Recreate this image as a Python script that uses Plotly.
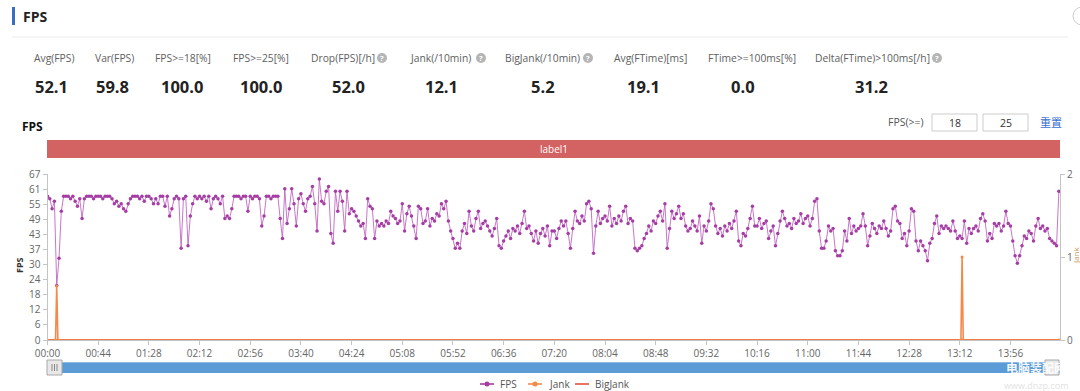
import plotly.graph_objects as go

W, H = 1080, 391


def px(x):
    return x / W


def py(y):
    return 1 - y / H


# ---------------- data ----------------
sample_interval_s = 2
fps_values = [
    58, 57, 53, 56, 22, 33, 52, 58, 58, 58, 57, 58, 56, 54, 57, 49, 57, 58, 58, 58, 57, 58,  # 00:00
    58, 58, 57, 58, 58, 58, 57, 55, 56, 54, 55, 53, 52, 55, 57, 58, 58, 58, 57, 58, 56, 58,  # 00:44
    58, 57, 55, 57, 55, 58, 58, 54, 58, 50, 53, 57, 58, 57, 37, 57, 58, 38, 50, 55, 58, 57,  # 01:28
    58, 57, 58, 56, 58, 53, 57, 58, 57, 55, 58, 49, 50, 49, 53, 58, 58, 58, 57, 58, 58, 52,  # 02:12
    58, 57, 58, 58, 57, 46, 50, 58, 58, 57, 58, 58, 58, 49, 41, 61, 47, 53, 61, 55, 46, 57,  # 02:56
    59, 55, 52, 57, 58, 62, 55, 44, 65, 56, 55, 60, 62, 43, 39, 60, 52, 60, 56, 44, 60, 51,  # 03:40
    53, 52, 50, 48, 46, 47, 41, 57, 54, 53, 41, 48, 46, 47, 46, 48, 47, 52, 50, 49, 47, 48,  # 04:24
    55, 44, 51, 54, 50, 46, 41, 54, 53, 47, 48, 53, 46, 49, 48, 51, 50, 55, 53, 56, 48, 44,  # 05:08
    41, 37, 39, 37, 44, 47, 43, 52, 46, 44, 49, 52, 45, 47, 48, 46, 44, 42, 45, 49, 38, 37,  # 05:52
    40, 42, 44, 41, 45, 44, 46, 43, 47, 52, 45, 46, 43, 40, 44, 39, 43, 45, 42, 46, 38, 44,  # 06:36
    44, 41, 45, 48, 46, 48, 43, 37, 45, 52, 48, 47, 50, 48, 55, 56, 53, 35, 46, 52, 47, 49,  # 07:20
    50, 48, 54, 46, 49, 47, 50, 48, 52, 54, 47, 49, 48, 37, 36, 37, 38, 41, 43, 46, 44, 48,  # 08:04
    47, 50, 52, 48, 55, 37, 45, 52, 49, 51, 54, 49, 51, 46, 44, 45, 48, 46, 44, 50, 39, 46,  # 08:48
    44, 48, 55, 53, 46, 43, 45, 42, 46, 44, 47, 45, 48, 52, 40, 38, 43, 42, 45, 49, 54, 46,  # 09:32
    46, 49, 45, 47, 48, 41, 44, 46, 38, 43, 48, 52, 49, 46, 47, 45, 49, 47, 48, 51, 47, 49,  # 10:16
    50, 46, 49, 56, 57, 44, 37, 37, 40, 46, 44, 45, 36, 34, 34, 36, 44, 40, 49, 43, 46, 44,  # 11:00
    45, 46, 51, 46, 38, 42, 47, 45, 43, 46, 45, 48, 45, 42, 44, 53, 54, 48, 47, 41, 43, 38,  # 11:44
    44, 53, 52, 40, 36, 40, 38, 36, 32, 39, 41, 47, 50, 43, 46, 45, 46, 45, 44, 48, 44, 41,  # 12:28
    42, 41, 48, 39, 45, 43, 45, 46, 44, 49, 51, 48, 40, 43, 41, 47, 46, 47, 44, 46, 52, 47,  # 13:12
    46, 40, 34, 31, 34, 38, 42, 41, 44, 43, 40, 46, 49, 45, 46, 44, 45, 41, 40, 39, 38, 60,  # 13:56
]
time_s = [i * sample_interval_s for i in range(len(fps_values))]

jank_time_s = [0, 7, 8, 9, 793, 794, 795, 878]
jank_values = [0, 0, 0.65, 0, 0, 1, 0, 0]

bigjank_time_s = [0, 878]
bigjank_values = [0, 0]

x_tick_labels = ["00:00", "00:44", "01:28", "02:12", "02:56", "03:40", "04:24",
                 "05:08", "05:52", "06:36", "07:20", "08:04", "08:48", "09:32",
                 "10:16", "11:00", "11:44", "12:28", "13:12", "13:56"]
y_left_max = 67
y_left_tick_labels = ["0", "6", "12", "18", "24", "30", "37", "43", "49", "55", "61", "67"]
y_right_tick_labels = ["0", "1", "2"]

stat_labels = ["Avg(FPS)", "Var(FPS)", "FPS>=18[%]", "FPS>=25[%]", "Drop(FPS)[/h]",
               "Jank(/10min)", "BigJank(/10min)", "Avg(FTime)[ms]", "FTime>=100ms[%]",
               "Delta(FTime)>100ms[/h]"]
stat_values = ["52.1", "59.8", "100.0", "100.0", "52.0", "12.1", "5.2", "19.1", "0.0", "31.2"]
stat_has_help = [False, False, False, False, True, True, True, False, False, True]

threshold_values = ["18", "25"]

# ---------------- styling / layout positions ----------------
stat_label_x = [32, 93, 153, 231, 309, 408, 503, 612, 706, 813]
stat_help_x = [None, None, None, None, 382, 481, 588, None, None, 937]
stat_value_x = [51, 112, 182, 261, 348, 441, 543, 643, 743, 871]

FONT = "Open Sans, Noto Sans CJK SC, sans-serif"
PURPLE = "#a53da5"
PURPLE_LINE = "rgba(190,95,190,0.85)"
ORANGE = "#f5894a"
RED = "#e5503c"

x_tickvals = [int(s.split(":")[0]) * 60 + int(s.split(":")[1]) for s in x_tick_labels]
n_left = len(y_left_tick_labels) - 1
y_left_tickvals = [i * y_left_max / n_left for i in range(n_left + 1)]
y_right_tickvals = [float(v) for v in y_right_tick_labels]

fig = go.Figure()
fig.add_trace(go.Scatter(
    x=time_s, y=fps_values, name="FPS", mode="lines+markers",
    line=dict(color=PURPLE_LINE, width=1),
    marker=dict(color=PURPLE, size=3.5), yaxis="y"))
fig.add_trace(go.Scatter(
    x=bigjank_time_s, y=bigjank_values, name="BigJank", mode="lines",
    line=dict(color=RED, width=2), yaxis="y2"))
fig.add_trace(go.Scatter(
    x=jank_time_s, y=jank_values, name="Jank", mode="lines+markers",
    line=dict(color=ORANGE, width=1.6),
    marker=dict(color=ORANGE, size=3), yaxis="y2"))

shapes = []
annotations = []


def rect(x0, y0, x1, y1, fill, line_color=None, lw=0):
    shapes.append(dict(type="rect", xref="paper", yref="paper",
                       x0=px(x0), x1=px(x1), y0=py(y1), y1=py(y0),
                       fillcolor=fill, line=dict(color=line_color or fill, width=lw),
                       layer="above"))


def hline(x0, x1, y, color, width=1):
    shapes.append(dict(type="line", xref="paper", yref="paper",
                       x0=px(x0), x1=px(x1), y0=py(y), y1=py(y),
                       line=dict(color=color, width=width), layer="above"))


def text(x, y, s, size=11, color="#555", xanchor="center", angle=0, family=FONT):
    annotations.append(dict(x=px(x), y=py(y), xref="paper", yref="paper", text=s,
                            showarrow=False, xanchor=xanchor, yanchor="middle",
                            textangle=angle, font=dict(size=size, color=color, family=family)))


# header
rect(12, 7, 15, 25, "#3a6cc4")
text(21, 16, "<b>FPS</b>", size=14, color="#222", xanchor="left")
shapes.append(dict(type="circle", xref="paper", yref="paper", x0=px(1073), x1=px(1091),
                   y0=py(25), y1=py(7), line=dict(color="#cfcfcf", width=1)))
hline(12, 1068, 37, "#ececec", 1)

# stats
for lbl, lx, val, vx, has_help, hx in zip(stat_labels, stat_label_x, stat_values,
                                            stat_value_x, stat_has_help, stat_help_x):
    text(lx, 58, lbl, size=10.3, color="#606060", xanchor="left")
    text(vx, 86, "<b>%s</b>" % val, size=16.5, color="#222")
    if has_help:
        shapes.append(dict(type="circle", xref="paper", yref="paper",
                           x0=px(hx - 5), x1=px(hx + 5), y0=py(63), y1=py(53),
                           fillcolor="#b5b5b5", line=dict(color="#b5b5b5", width=0)))
        text(hx, 58, "<b>?</b>", size=7.5, color="white")

# chart title + controls
text(20, 127, "<b>FPS</b>", size=12, color="#111", xanchor="left")
text(926, 122, "FPS(>=)", size=10.5, color="#555", xanchor="right")
for (bx0, bx1), tv in zip([(932, 977), (983, 1028)], threshold_values):
    rect(bx0, 114, bx1, 131, "white", "#cccccc", 1)
    text((bx0 + bx1) / 2, 122.5, tv, size=10.5, color="#333")
text(1051, 122, "重置", size=11, color="#3b6fd1", family="Noto Sans CJK SC")

# label band
rect(47, 140, 1060, 158, "#d36262")
text(553.5, 149, "label1", size=10, color="white")

# axis titles
text(19, 265, "<b>FPS</b>", size=9, color="#333", angle=-90)
text(1075, 255, "Jank", size=8, color="#c89a64", angle=-90)

# data-zoom slider
rect(47, 362, 1060, 373, "#5b9bd6")
hline(47, 1060, 362.5, "#8dbbe6", 1)
rect(47, 360, 62, 375, "#e8e8e8", "#a8a8a8", 1)
for gx in (52, 54.5, 57):
    shapes.append(dict(type="line", xref="paper", yref="paper", x0=px(gx), x1=px(gx),
                       y0=py(371), y1=py(364), line=dict(color="#888", width=1), layer="above"))
rect(1045, 360, 1059, 375, "#e8e8e8", "#a8a8a8", 1)

# legend (drawn)
legend_items = [("FPS", PURPLE, True, 480, 498), ("Jank", ORANGE, True, 528, 547),
                ("BigJank", RED, False, 575, 593)]
for name, col, dot, lx0, tx in legend_items:
    hline(lx0, lx0 + 14, 384, col, 1.6)
    if dot:
        shapes.append(dict(type="circle", xref="paper", yref="paper",
                           x0=px(lx0 + 4.5), x1=px(lx0 + 9.5), y0=py(386.5), y1=py(381.5),
                           fillcolor=col, line=dict(color=col, width=0), layer="above"))
    text(tx, 384, name, size=10, color="#555", xanchor="left")

# watermark
text(1036, 367.5, "<b>电脑装配网</b>", size=12, color="rgba(255,255,255,0.95)",
     family="Noto Sans CJK SC")
text(1036, 385, "www.dnzp.com", size=9, color="#e2e2e2")

axis_common = dict(showgrid=False, zeroline=False, showline=True, linecolor="#c4c4c4",
                   ticks="outside", ticklen=4, tickcolor="#c4c4c4", automargin=False,
                   tickfont=dict(size=10, color="#666"))

fig.update_layout(
    width=W, height=H, autosize=False,
    margin=dict(l=0, r=0, t=0, b=0, pad=0, autoexpand=False),
    paper_bgcolor="white", plot_bgcolor="white",
    showlegend=False,
    font=dict(family=FONT, color="#666"),
    shapes=shapes, annotations=annotations,
    xaxis=dict(domain=[px(47.5), px(1060)], range=[0, 879],
               tickvals=x_tickvals, ticktext=x_tick_labels, **axis_common),
    yaxis=dict(domain=[py(340), py(174)], range=[0, y_left_max],
               tickvals=y_left_tickvals, ticktext=y_left_tick_labels, **axis_common),
    yaxis2=dict(overlaying="y", side="right", anchor="x", range=[0, 2],
                tickvals=y_right_tickvals, ticktext=y_right_tick_labels, **axis_common),
)

css_fix = (
    "var s=document.createElement('style');"
    "s.innerHTML='html,body{margin:0!important;padding:0!important;overflow:hidden;}';"
    "document.head.appendChild(s);"
    "document.body.style.margin='0';"
)
fig.write_html("out.html", config={"displayModeBar": False}, post_script=css_fix)
